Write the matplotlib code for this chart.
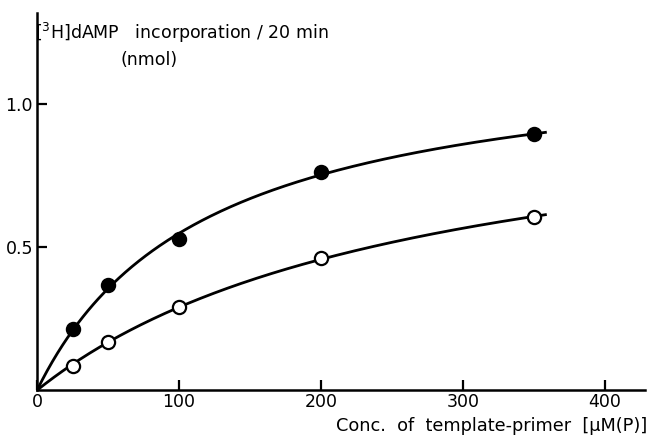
import numpy as np
import matplotlib
matplotlib.use("Agg")
import matplotlib.pyplot as plt

plt.rcParams["font.family"] = ["DejaVu Sans"]
plt.rcParams["mathtext.default"] = "regular"

# template-primer concentration, uM(P)
conc = [25, 50, 100, 200, 350]
# [3H]dAMP incorporation / 20 min (nmol)
filled_vals = [0.213, 0.367, 0.528, 0.762, 0.895]
open_vals = [0.084, 0.168, 0.290, 0.462, 0.605]
x_ticks = [0, 100, 200, 300, 400]
y_ticks = [0.5, 1.0]
y_ticklabels = ["0.5", "1.0"]


def mm_fit(x, y):
    """hyperbolic (Michaelis-Menten) fit: grid over K, least squares for Vmax"""
    x = np.asarray(x, float)
    y = np.asarray(y, float)
    best = None
    for k in np.linspace(10, 1000, 2000):
        f = x / (k + x)
        vm = (f @ y) / (f @ f)
        err = np.sum((vm * f - y) ** 2)
        if best is None or err < best[0]:
            best = (err, vm, k)
    return best[1], best[2]


fig = plt.figure(figsize=(6.5, 4.36), dpi=100)
ax = fig.add_axes([0.057, 0.105, 0.935, 0.865])

xs = np.linspace(0, 358, 300)
for vals, face in [(filled_vals, "black"), (open_vals, "white")]:
    vm, k = mm_fit(conc, vals)
    ax.plot(xs, vm * xs / (k + xs), color="black", lw=2.0, zorder=2)
    ax.plot(conc, vals, "o", ms=9.5, mfc=face, mec="black", mew=1.6, zorder=3)

ax.set_xlim(0, 428)
ax.set_ylim(0, 1.318)
ax.spines["top"].set_visible(False)
ax.spines["right"].set_visible(False)
for s in ["left", "bottom"]:
    ax.spines[s].set_linewidth(1.8)

ax.set_xticks(x_ticks)
ax.set_xticklabels([str(t) for t in x_ticks])
ax.set_yticks(y_ticks)
ax.set_yticklabels(y_ticklabels)
ax.tick_params(direction="in", length=7, width=1.6, labelsize=12.5, pad=3)
ax.tick_params(axis="x", pad=2)

fig.text(0.054, 0.925, r"[$^{3}$H]dAMP   incorporation / 20 min",
         fontsize=12.5, ha="left", va="center")
fig.text(0.23, 0.862, "(nmol)", fontsize=12.5, ha="center", va="center")
fig.text(0.995, 0.024, "Conc.  of  template-primer  [\u00b5M(P)]",
         fontsize=12.8, ha="right", va="center")

fig.savefig("out.png", dpi=100)
